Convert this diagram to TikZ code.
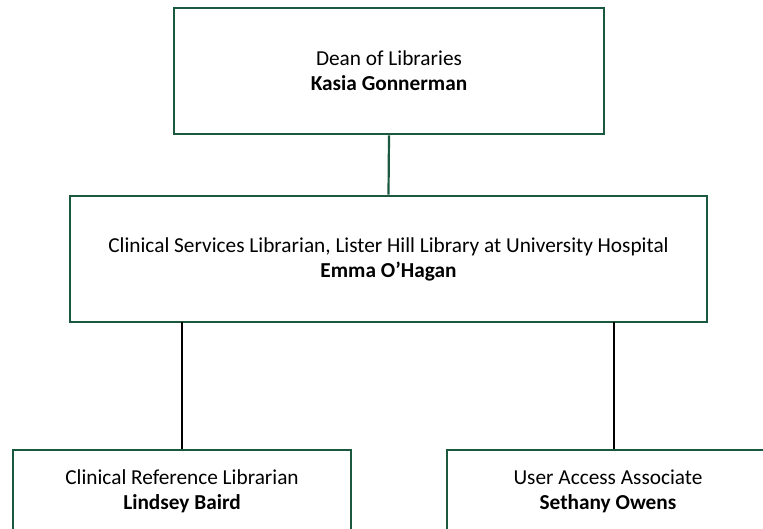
\documentclass[tikz,border=0pt]{standalone}
\usepackage{fontspec}
\setmainfont{Carlito}
\definecolor{boxgreen}{RGB}{27,88,64}
\begin{document}
\begin{tikzpicture}[x=1pt,y=1pt,
  orgbox/.style={draw=boxgreen,line width=2.6pt,fill=white,align=center,inner sep=0pt,font=\fontsize{21.3}{25}\selectfont},
  link/.style={line width=2.2pt}]
\useasboundingbox (0,0) rectangle (763,528);
\node[orgbox,minimum width=430,minimum height=126] (dean) at (389,457) {Dean of Libraries\\\textbf{Kasia Gonnerman}};
\node[orgbox,minimum width=637,minimum height=126] (clin) at (388.5,269) {Clinical Services Librarian, Lister Hill Library at University Hospital\\\textbf{Emma O’Hagan}};
\node[orgbox,minimum width=338,minimum height=82] (ref) at (182,37) {Clinical Reference Librarian\\\textbf{Lindsey Baird}};
\node[orgbox,minimum width=322,minimum height=82] (ua) at (608,37) {User Access Associate\\\textbf{Sethany Owens}};
\coordinate (c1) at (182,206);
\coordinate (c2) at (614,206);
\draw[link,boxgreen] (dean.south) -- (clin.north);
\draw[link,black] (c1) -- (c1 |- ref.north);
\draw[link,black] (c2) -- (c2 |- ua.north);
\end{tikzpicture}
\end{document}
